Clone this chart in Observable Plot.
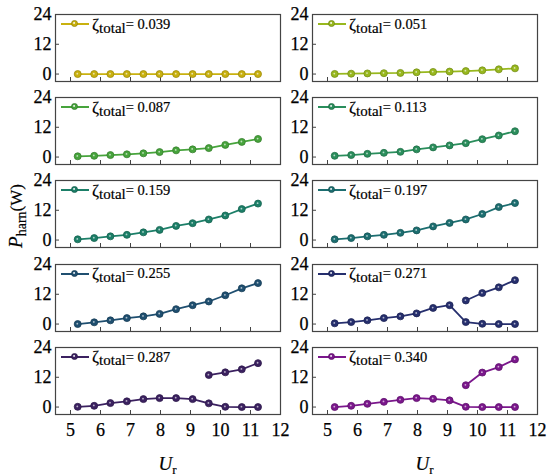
<!DOCTYPE html>
<html><head><meta charset="utf-8">
<script src="https://cdn.jsdelivr.net/npm/d3@7"></script>
<script src="https://cdn.jsdelivr.net/npm/@observablehq/plot@0.6"></script>
<style>
body{margin:0;background:#fff;}
#fig{position:relative;width:550px;height:476px;font-family:"Liberation Serif","Times New Roman",serif;color:#000;overflow:hidden;-webkit-text-stroke:0.2px #000;}
.panel{position:absolute;}
.panel text{font-family:"Liberation Serif","Times New Roman",serif !important;stroke:#000;stroke-width:0.25px;}
.legend{position:absolute;height:20px;display:flex;align-items:center;white-space:nowrap;line-height:1;}
.lgline{position:relative;display:inline-block;width:28px;height:2px;margin-right:3px;}
.lgdot{position:absolute;left:10px;top:-3px;width:7px;height:7px;border-radius:50%;box-sizing:border-box;}
.zeta{font-size:17px;}
.sub{font-size:15px;position:relative;top:4px;}
.val{font-size:14.5px;}
#ylab{position:absolute;left:15px;top:216px;transform:translate(-50%,-50%) rotate(-90deg);white-space:nowrap;line-height:1;}
.xlab{position:absolute;top:463px;transform:translate(-50%,-50%);white-space:nowrap;line-height:1;}
</style>
</head><body>
<div id="fig"></div>
<script>
// ---- data ----
const ur = [5.24, 5.79, 6.33, 6.88, 7.43, 7.97, 8.52, 9.07, 9.61, 10.16, 10.71, 11.25];
const urUpper = [9.61, 10.16, 10.71, 11.25];
const zetaLabels = ["0.039", "0.051", "0.087", "0.113", "0.159", "0.197", "0.255", "0.271", "0.287", "0.340"];
const colors = ["#c9b10f", "#98b81e", "#47a43c", "#2a8e5c", "#1c7f68", "#1c6e70", "#1f4f70", "#262f6e", "#3b2160", "#7b178c"];
const p039 = [0, 0, 0, 0, 0, 0, 0, 0, 0, 0, 0, 0];
const p051 = [0.05, 0.15, 0.25, 0.35, 0.45, 0.7, 0.85, 1.0, 1.2, 1.5, 1.9, 2.3];
const p087 = [0.3, 0.5, 0.8, 1.1, 1.5, 2.0, 2.7, 3.1, 3.6, 4.9, 6.1, 7.3];
const p113 = [0.5, 0.8, 1.3, 1.7, 2.1, 3.1, 3.9, 4.7, 5.6, 7.2, 8.7, 10.4];
const p159 = [0.3, 0.8, 1.5, 2.1, 3.1, 4.1, 5.7, 6.8, 8.3, 9.9, 12.5, 14.7];
const p197 = [0.3, 0.8, 1.5, 2.1, 2.9, 3.9, 5.5, 6.9, 8.3, 10.5, 13.3, 14.9];
const p255 = [0.0, 0.7, 1.5, 2.4, 3.1, 4.1, 6.0, 7.6, 9.1, 11.6, 14.4, 16.5];
const p271 = [0.3, 0.8, 1.5, 2.4, 3.1, 4.3, 6.5, 7.6, 0.8, 0.1, 0.0, 0.0];
const p287 = [0.1, 0.5, 1.6, 2.3, 3.2, 3.6, 3.6, 3.2, 1.5, 0.1, 0.0, 0.0];
const p340 = [0.0, 0.5, 1.3, 2.1, 2.9, 3.6, 3.3, 2.7, 0.1, 0.0, 0.0, 0.0];
const up271 = [9.5, 12.5, 14.8, 17.7];
const up287 = [12.9, 14.0, 15.2, 17.7];
const up340 = [8.8, 13.9, 16.1, 19.2];
const xTicks = [5, 6, 7, 8, 9, 10, 11, 12];
const yTicks = [0, 12, 24];

const lower = [p039, p051, p087, p113, p159, p197, p255, p271, p287, p340];
const upper = [null, null, null, null, null, null, null, up271, up287, up340];

// ---- layout ----
const fig = document.getElementById("fig");
const W = 225, H = 67;
const colLeft = [55, 312];
const rowTop = [14, 97.2, 180.4, 263.6, 346.8];
const FONT = '"Liberation Serif","Times New Roman",serif';

for (let i = 0; i < 10; i++) {
  const col = i % 2, row = Math.floor(i / 2);
  const bottom = row === 4;
  const color = colors[i];
  const dark = d3.color(color).darker(0.7).formatHex();
  const pts = ur.map((u, k) => ({x: u, y: lower[i][k], b: "lo"}));
  if (upper[i]) urUpper.forEach((u, k) => pts.push({x: u, y: upper[i][k], b: "hi"}));
  const ml = 45, mr = 4, mt = 4, mb = bottom ? 34 : 4;
  const svg = Plot.plot({
    width: ml + W + mr, height: mt + H + mb,
    marginLeft: ml, marginRight: mr, marginTop: mt, marginBottom: mb,
    style: {background: "transparent", fontFamily: FONT, fontSize: "18px", overflow: "visible", color: "#000"},
    x: {domain: [4.5, 12], axis: null},
    y: {domain: [-3, 24], axis: null},
    marks: [
      Plot.tickX(xTicks, {x: d => d, insetTop: H - 4, stroke: "#444", strokeWidth: 1}),
      Plot.tickY(yTicks, {y: d => d, insetRight: W - 4, stroke: "#444", strokeWidth: 1}),
      Plot.frame({stroke: "#444", strokeWidth: 1.2}),
      Plot.axisY({ticks: yTicks, tickSize: 0, tickPadding: 4, label: null, fontSize: 18, fontFamily: FONT, fill: "#000", tickFormat: d => String(d)}),
      bottom ? Plot.axisX({ticks: xTicks, tickSize: 0, tickPadding: 9, label: null, fontSize: 18, fontFamily: FONT, fill: "#000", tickFormat: d => String(d)}) : null,
      Plot.line(pts, {x: "x", y: "y", z: "b", stroke: color, strokeWidth: 1.8}),
      Plot.dot(pts, {x: "x", y: "y", r: 3.5, fill: color, stroke: dark, strokeWidth: 0.8}),
      Plot.dot(pts, {x: "x", y: "y", r: 0.9, fill: "white", fillOpacity: 0.65, dx: -0.4, dy: -0.4})
    ]
  });
  svg.classList.add("panel");
  svg.style.left = (colLeft[col] - ml) + "px";
  svg.style.top = (rowTop[row] - mt) + "px";
  fig.appendChild(svg);

  const lg = document.createElement("div");
  lg.className = "legend";
  lg.style.left = (colLeft[col] + 6) + "px";
  lg.style.top = (rowTop[row] + 0) + "px";
  lg.innerHTML = `<span class="lgline" style="background:${color}"><span class="lgdot" style="background:radial-gradient(circle at 42% 42%, rgba(255,255,255,0.7) 0 14%, ${color} 32%);border:0.8px solid ${dark}"></span></span>` +
    `<span class="zeta">ζ</span><span class="sub">total</span><span class="val">= ${zetaLabels[i]}</span>`;
  fig.appendChild(lg);
}

const ylab = document.createElement("div");
ylab.id = "ylab";
ylab.innerHTML = `<i style="font-size:19px">P</i><span style="font-size:14px;position:relative;top:4px">harn</span><span style="font-size:17px">(W)</span>`;
fig.appendChild(ylab);

[0, 1].forEach(c => {
  const xl = document.createElement("div");
  xl.className = "xlab";
  xl.style.left = (colLeft[c] + W / 2) + "px";
  xl.innerHTML = `<i style="font-size:19px">U</i><span style="font-size:13px;position:relative;top:4px">r</span>`;
  fig.appendChild(xl);
});
</script>
</body></html>
